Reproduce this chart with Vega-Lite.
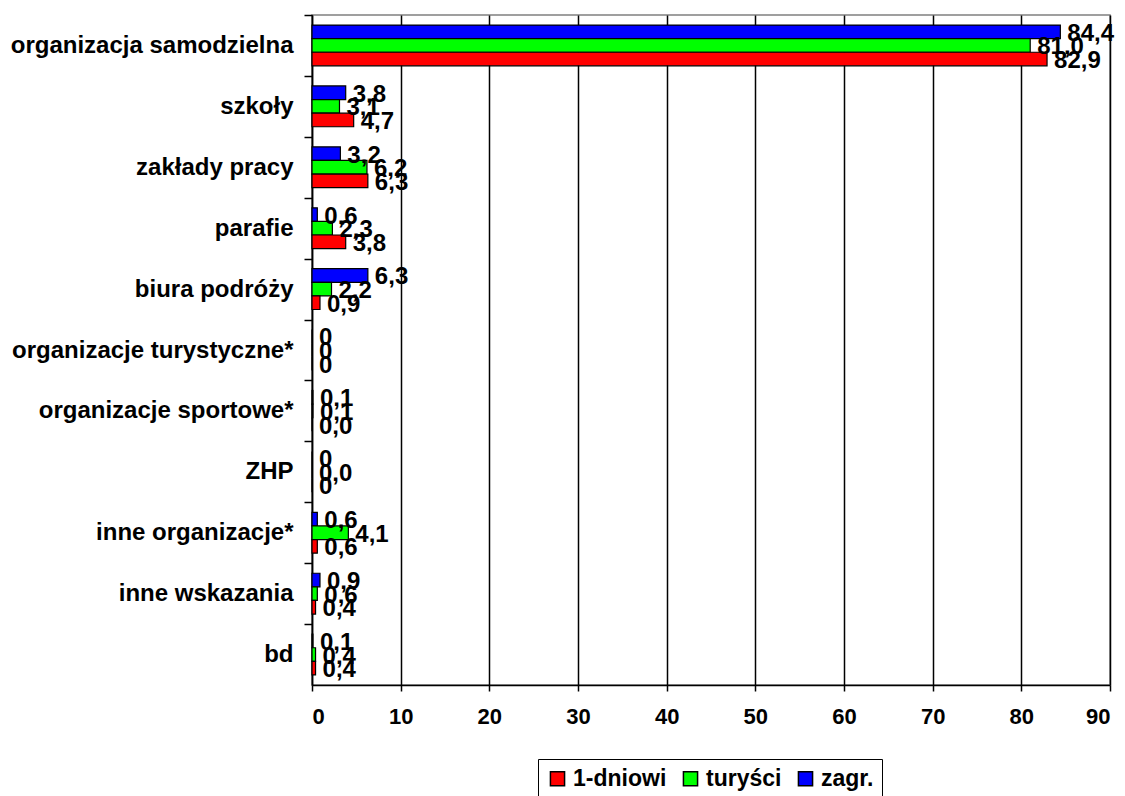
{
  "$schema": "https://vega.github.io/schema/vega-lite/v6.json",
  "autosize": "none",
  "width": 798,
  "height": 670,
  "padding": {"left": 312, "top": 15, "right": 15, "bottom": 111},
  "background": "white",
  "config": {
    "font": "Liberation Sans",
    "view": {"stroke": "#808080", "strokeWidth": 1.5}
  },
  "data": {
    "values": [
      {"cat": "organizacja samodzielna", "s": "zagr.", "v": 84.4, "t": "84,4"},
      {"cat": "organizacja samodzielna", "s": "turyści", "v": 81.0, "t": "81,0"},
      {"cat": "organizacja samodzielna", "s": "1-dniowi", "v": 82.9, "t": "82,9"},
      {"cat": "szkoły", "s": "zagr.", "v": 3.8, "t": "3,8"},
      {"cat": "szkoły", "s": "turyści", "v": 3.1, "t": "3,1"},
      {"cat": "szkoły", "s": "1-dniowi", "v": 4.7, "t": "4,7"},
      {"cat": "zakłady pracy", "s": "zagr.", "v": 3.2, "t": "3,2"},
      {"cat": "zakłady pracy", "s": "turyści", "v": 6.2, "t": "6,2"},
      {"cat": "zakłady pracy", "s": "1-dniowi", "v": 6.3, "t": "6,3"},
      {"cat": "parafie", "s": "zagr.", "v": 0.6, "t": "0,6"},
      {"cat": "parafie", "s": "turyści", "v": 2.3, "t": "2,3"},
      {"cat": "parafie", "s": "1-dniowi", "v": 3.8, "t": "3,8"},
      {"cat": "biura podróży", "s": "zagr.", "v": 6.3, "t": "6,3"},
      {"cat": "biura podróży", "s": "turyści", "v": 2.2, "t": "2,2"},
      {"cat": "biura podróży", "s": "1-dniowi", "v": 0.9, "t": "0,9"},
      {"cat": "organizacje turystyczne*", "s": "zagr.", "v": 0, "t": "0"},
      {"cat": "organizacje turystyczne*", "s": "turyści", "v": 0, "t": "0"},
      {"cat": "organizacje turystyczne*", "s": "1-dniowi", "v": 0, "t": "0"},
      {"cat": "organizacje sportowe*", "s": "zagr.", "v": 0.1, "t": "0,1"},
      {"cat": "organizacje sportowe*", "s": "turyści", "v": 0.1, "t": "0,1"},
      {"cat": "organizacje sportowe*", "s": "1-dniowi", "v": 0.0, "t": "0,0"},
      {"cat": "ZHP", "s": "zagr.", "v": 0, "t": "0"},
      {"cat": "ZHP", "s": "turyści", "v": 0.0, "t": "0,0"},
      {"cat": "ZHP", "s": "1-dniowi", "v": 0, "t": "0"},
      {"cat": "inne organizacje*", "s": "zagr.", "v": 0.6, "t": "0,6"},
      {"cat": "inne organizacje*", "s": "turyści", "v": 4.1, "t": "4,1"},
      {"cat": "inne organizacje*", "s": "1-dniowi", "v": 0.6, "t": "0,6"},
      {"cat": "inne wskazania", "s": "zagr.", "v": 0.9, "t": "0,9"},
      {"cat": "inne wskazania", "s": "turyści", "v": 0.6, "t": "0,6"},
      {"cat": "inne wskazania", "s": "1-dniowi", "v": 0.4, "t": "0,4"},
      {"cat": "bd", "s": "zagr.", "v": 0.1, "t": "0,1"},
      {"cat": "bd", "s": "turyści", "v": 0.4, "t": "0,4"},
      {"cat": "bd", "s": "1-dniowi", "v": 0.4, "t": "0,4"}
    ]
  },
  "encoding": {
    "y": {
      "field": "cat", "type": "nominal", "sort": null, "title": null,
      "scale": {"paddingInner": 0.33, "paddingOuter": 0.165},
      "axis": {
        "domain": true, "domainColor": "black", "domainWidth": 1.5,
        "ticks": true, "tickColor": "black", "tickWidth": 1.5, "tickSize": 8,
        "tickOffset": -30.45, "labelOffset": 30.45,
        "labelFont": "Liberation Sans", "labelFontSize": 24, "labelFontWeight": "bold",
        "labelColor": "black", "labelPadding": 11, "labelLimit": 400
      }
    },
    "yOffset": {"field": "s", "type": "nominal", "sort": ["zagr.", "turyści", "1-dniowi"]},
    "x": {
      "field": "v", "type": "quantitative", "title": null,
      "scale": {"domain": [0, 90], "nice": false},
      "axis": {
        "values": [0, 10, 20, 30, 40, 50, 60, 70, 80, 90],
        "grid": true, "gridColor": "black", "gridWidth": 1.5, "gridOpacity": 1,
        "domainColor": "black", "domainWidth": 1.5,
        "tickColor": "black", "tickWidth": 1.5, "tickSize": 6,
        "labelFont": "Liberation Sans", "labelFontSize": 22, "labelFontWeight": "bold",
        "labelColor": "black", "labelPadding": 15
      }
    }
  },
  "layer": [
    {
      "mark": {"type": "bar", "stroke": "black", "strokeWidth": 1.2},
      "encoding": {
        "color": {
          "field": "s", "type": "nominal",
          "scale": {"domain": ["1-dniowi", "turyści", "zagr."], "range": ["#FF0000", "#00FF00", "#0000FF"]},
          "legend": {
            "title": null, "orient": "none", "direction": "horizontal",
            "legendX": 226, "legendY": 744,
            "strokeColor": "black", "padding": 8,
            "symbolType": "square", "symbolSize": 200, "symbolStrokeColor": "black", "symbolStrokeWidth": 1.5,
            "symbolOpacity": 1,
            "labelFont": "Liberation Sans", "labelFontSize": 23, "labelFontWeight": "bold", "labelColor": "black",
            "columnPadding": 12, "labelOffset": 4
          }
        }
      }
    },
    {
      "mark": {"type": "text", "align": "left", "baseline": "middle", "dx": 7, "dy": 2, "font": "Liberation Sans", "fontSize": 24, "fontWeight": "bold", "color": "black"},
      "encoding": {"text": {"field": "t"}}
    }
  ]
}
